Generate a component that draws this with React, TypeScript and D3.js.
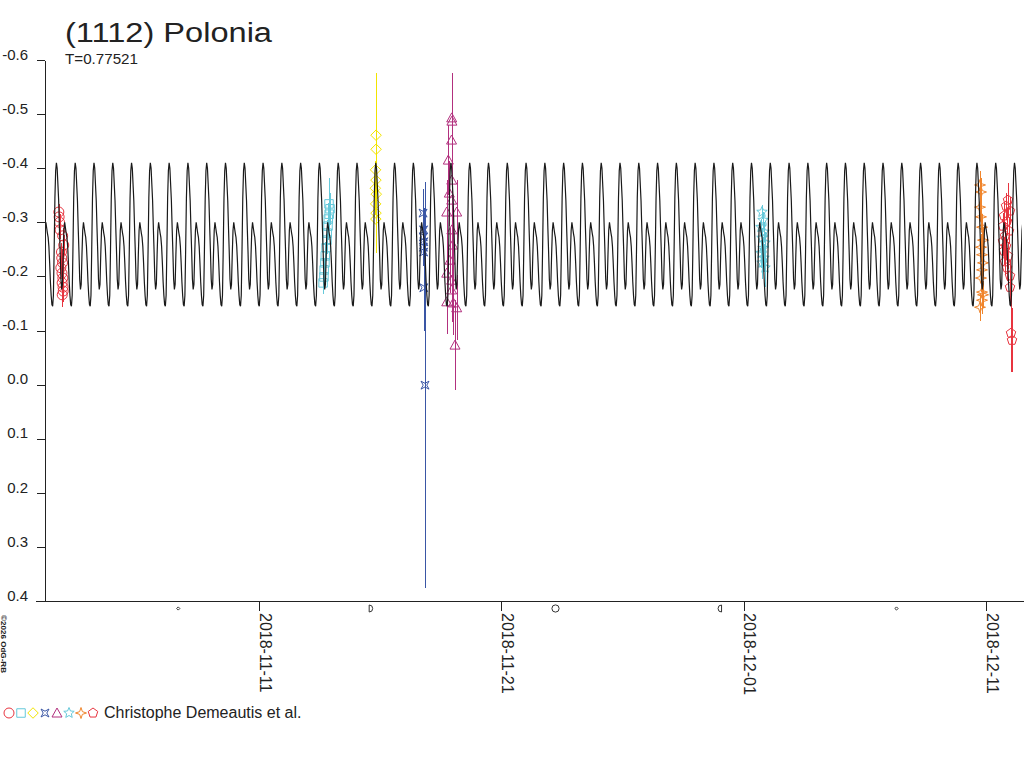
import * as d3 from "d3";
import { useEffect, useRef } from "react";

// period (days) and time of one model maximum (days since 2018-11-01 0h UT)
const PERIOD = 0.77521;
const EPOCH = 1.64;

// one cycle of the model light curve
const shapePhase = [0, 0.04, 0.08, 0.12, 0.16, 0.2, 0.24, 0.28, 0.32, 0.36, 0.4, 0.44, 0.48, 0.52, 0.56, 0.6, 0.64, 0.68, 0.72, 0.76, 0.8, 0.84, 0.88, 0.92, 0.96];
const shapeMag = [-0.41, -0.4, -0.37, -0.34, -0.29, -0.245, -0.195, -0.176, -0.185, -0.24, -0.285, -0.3, -0.29, -0.28, -0.272, -0.255, -0.225, -0.19, -0.165, -0.148, -0.145, -0.165, -0.25, -0.345, -0.395];

// observing sessions: time (days since 2018-11-01), relative mag, error
const s1Time = [1.74, 1.752, 1.77, 1.792, 1.898, 1.942, 1.848, 1.86, 1.892, 1.822, 1.87, 1.906, 1.876, 1.914, 1.92, 1.88];
const s1Mag = [-0.319, -0.31, -0.3, -0.286, -0.275, -0.258, -0.245, -0.234, -0.225, -0.216, -0.206, -0.197, -0.188, -0.18, -0.173, -0.166];
const s1Err = [0.015, 0.015, 0.016, 0.016, 0.015, 0.018, 0.016, 0.017, 0.018, 0.018, 0.02, 0.02, 0.02, 0.022, 0.02, 0.022];

const s2Time = [12.889, 12.93, 12.895, 12.86, 12.847, 12.815, 12.806, 12.77, 12.735, 12.72, 12.69, 12.68, 12.645];
const s2Mag = [-0.334, -0.325, -0.315, -0.306, -0.293, -0.28, -0.267, -0.253, -0.238, -0.225, -0.212, -0.199, -0.188];
const s2Err = [0.048, 0.03, 0.03, 0.03, 0.025, 0.025, 0.025, 0.025, 0.025, 0.025, 0.02, 0.02, 0.02];

const s3Time = [14.83, 14.832, 14.81, 14.825, 14.8, 14.84, 14.815, 14.828, 14.822];
const s3Mag = [-0.461, -0.435, -0.397, -0.378, -0.363, -0.352, -0.334, -0.317, -0.306];
const s3Err = [0.115, 0.09, 0.07, 0.055, 0.05, 0.05, 0.06, 0.06, 0.063];

const s4Time = [16.77, 16.79, 16.78, 16.8, 16.785, 16.795, 16.8, 16.85];
const s4Mag = [-0.317, -0.286, -0.273, -0.264, -0.254, -0.245, -0.179, 0.001];
const s4Err = [0.045, 0.04, 0.035, 0.035, 0.035, 0.035, 0.08, 0.375];

const s5Time = [17.952, 17.96, 17.945, 17.812, 17.955, 17.853, 17.746, 17.952, 18.158, 17.958, 17.882, 17.746, 17.95, 17.746, 18.018, 18.158, 18.088, 17.99, 17.948];
const s5Mag = [-0.493, -0.487, -0.452, -0.415, -0.378, -0.354, -0.319, -0.341, -0.319, -0.286, -0.23, -0.206, -0.193, -0.153, -0.151, -0.142, -0.073, -0.258, -0.175];
const s5Err = [0.083, 0.08, 0.07, 0.065, 0.06, 0.06, 0.06, 0.06, 0.06, 0.06, 0.06, 0.06, 0.06, 0.06, 0.06, 0.06, 0.083, 0.06, 0.06];

const s6Time = [30.756, 30.798, 30.715, 30.839, 30.756, 30.88, 30.798, 30.715, 30.839, 30.756, 30.88];
const s6Mag = [-0.319, -0.304, -0.291, -0.282, -0.271, -0.262, -0.252, -0.243, -0.234, -0.225, -0.216];
const s6Err = [0.013, 0.015, 0.015, 0.018, 0.018, 0.02, 0.02, 0.025, 0.025, 0.03, 0.035];

const s7Time = [39.753, 39.794, 39.753, 39.794, 39.836, 39.877, 39.794, 39.836, 39.877, 39.836, 39.794, 39.836, 39.877, 39.836, 39.753];
const s7Mag = [-0.369, -0.356, -0.328, -0.31, -0.291, -0.267, -0.254, -0.24, -0.225, -0.212, -0.197, -0.171, -0.166, -0.156, -0.143];
const s7Err = [0.025, 0.025, 0.025, 0.025, 0.025, 0.025, 0.025, 0.025, 0.025, 0.025, 0.025, 0.025, 0.025, 0.025, 0.025];

const s8Time = [40.908, 40.826, 40.991, 40.743, 40.867, 40.702, 40.949, 40.784, 40.702, 40.826, 40.743, 40.908, 40.784, 40.867, 40.991, 40.991, 41.032, 41.073];
const s8Mag = [-0.341, -0.33, -0.321, -0.312, -0.302, -0.293, -0.284, -0.275, -0.265, -0.256, -0.247, -0.238, -0.227, -0.216, -0.201, -0.18, -0.095, -0.082];
const s8Err = [0.031, 0.025, 0.025, 0.025, 0.025, 0.025, 0.025, 0.025, 0.025, 0.025, 0.025, 0.025, 0.025, 0.025, 0.03, 0.03, 0.072, 0.059];

const sessionColors = ["#e8343f", "#66c9da", "#f2e400", "#3a56a5", "#b2307e", "#66c9da", "#f0852c", "#e8343f"];

// tick labels and moon phases
const xTickDates = ["2018-11-11", "2018-11-21", "2018-12-01", "2018-12-11"];
const yTicks = [-0.6, -0.5, -0.4, -0.3, -0.2, -0.1, 0.0, 0.1, 0.2, 0.3, 0.4];
const moonTime = [6.668, 14.621, 22.235, 29.013, 36.306];
const moonKind = ["new", "first", "full", "last", "new"];

const observer = "Christophe Demeautis et al.";
const FONT = "'Liberation Sans', Arial, sans-serif";

const T0 = Date.UTC(2018, 10, 1);
const toDate = (t: number) => new Date(T0 + t * 864e5);

// symbol types (size = (2r)^2)
const rad = (s: number) => Math.sqrt(s) / 2;
const symCircle = { draw(c: any, s: number) { const r = rad(s); c.moveTo(r, 0); c.arc(0, 0, r, 0, 2 * Math.PI); } };
const symSquare = { draw(c: any, s: number) { const r = rad(s) * 0.85; c.rect(-r, -r, 2 * r, 2 * r); } };
const symDiamond = { draw(c: any, s: number) { const r = rad(s) * 1.05; c.moveTo(0, -r); c.lineTo(r, 0); c.lineTo(0, r); c.lineTo(-r, 0); c.closePath(); } };
const symNotched = {
    draw(c: any, s: number) {
        const r = rad(s) * 0.8, q = r * 0.45;
        c.moveTo(-r, -r); c.lineTo(0, -q); c.lineTo(r, -r); c.lineTo(q, 0);
        c.lineTo(r, r); c.lineTo(0, q); c.lineTo(-r, r); c.lineTo(-q, 0); c.closePath();
    }
};
const symTriangle = { draw(c: any, s: number) { const r = rad(s); c.moveTo(0, -r); c.lineTo(r, r * 0.8); c.lineTo(-r, r * 0.8); c.closePath(); } };
const starType = (n: number, inner: number, scale: number) => ({
    draw(c: any, s: number) {
        const r = rad(s) * scale;
        for (let i = 0; i < 2 * n; i++) {
            const a = (i * Math.PI) / n - Math.PI / 2;
            const rr = i % 2 === 0 ? r : r * inner;
            if (i === 0) c.moveTo(rr * Math.cos(a), rr * Math.sin(a));
            else c.lineTo(rr * Math.cos(a), rr * Math.sin(a));
        }
        c.closePath();
    }
});
const symStar = starType(5, 0.45, 1.1);
const symStar4 = starType(4, 0.35, 1.1);
const symPentagon = {
    draw(c: any, s: number) {
        const r = rad(s) * 1.0;
        for (let i = 0; i < 5; i++) {
            const a = (i * 2 * Math.PI) / 5 - Math.PI / 2;
            if (i === 0) c.moveTo(r * Math.cos(a), r * Math.sin(a));
            else c.lineTo(r * Math.cos(a), r * Math.sin(a));
        }
        c.closePath();
    }
};
const sessionSymbols = [symCircle, symSquare, symDiamond, symNotched, symTriangle, symStar, symStar4, symPentagon];

const Chart = () => {
    const svgRef = useRef<SVGSVGElement | null>(null);

    useEffect(() => {
        if (!svgRef.current) return;
        const width = 1024;
        const height = 768;

        const svg = d3.select(svgRef.current)
            .attr("width", width)
            .attr("height", height)
            .style("background", "#fff");
        svg.selectAll("*").remove();

        const x = d3.scaleUtc()
            .domain([toDate(1.169), toDate(41.568)])
            .range([45, 1024]);
        const y = d3.scaleLinear()
            .domain([-0.6, 0.4])
            .range([60, 601]);

        const sessions = [
            [s1Time, s1Mag, s1Err], [s2Time, s2Mag, s2Err], [s3Time, s3Mag, s3Err], [s4Time, s4Mag, s4Err],
            [s5Time, s5Mag, s5Err], [s6Time, s6Mag, s6Err], [s7Time, s7Mag, s7Err], [s8Time, s8Mag, s8Err]
        ].map(([t, m, e], k) => ({
            color: sessionColors[k],
            symbol: sessionSymbols[k],
            pts: t.map((tt, i) => ({ t: tt, m: m[i], e: e[i] }))
        }));

        // observations: error bars and symbols
        sessions.forEach(s => {
            const g = svg.append("g");
            g.selectAll("line")
                .data(s.pts)
                .join("line")
                .attr("x1", d => Math.round(x(toDate(d.t))) + 0.5)
                .attr("x2", d => Math.round(x(toDate(d.t))) + 0.5)
                .attr("y1", d => y(d.m - d.e))
                .attr("y2", d => y(d.m + d.e))
                .attr("stroke", s.color)
                .attr("stroke-width", 1)
                .attr("shape-rendering", "crispEdges");
            g.selectAll("path")
                .data(s.pts)
                .join("path")
                .attr("transform", d => `translate(${x(toDate(d.t))},${y(d.m)})`)
                .attr("d", d3.symbol().type(s.symbol as any).size(100)())
                .attr("fill", "none")
                .attr("stroke", s.color)
                .attr("stroke-width", 1);
        });

        // model light curve, one read-off cycle repeated with the period
        const curve: { t: number; m: number }[] = [];
        for (let k = -2; k < 56; k++) {
            shapePhase.forEach((p, i) => curve.push({ t: EPOCH + (k + p) * PERIOD, m: shapeMag[i] }));
        }
        svg.append("clipPath").attr("id", "plotclip")
            .append("rect").attr("x", 45).attr("y", 0).attr("width", 977).attr("height", 601);
        svg.append("path")
            .datum(curve)
            .attr("clip-path", "url(#plotclip)")
            .attr("fill", "none")
            .attr("stroke", "#1a1a1a")
            .attr("stroke-width", 1.2)
            .attr("d", d3.line<{ t: number; m: number }>()
                .x(d => x(toDate(d.t)))
                .y(d => y(d.m)));

        // axes
        const yAxis = svg.append("g")
            .attr("transform", "translate(45,0)")
            .call(d3.axisLeft(y).tickValues(yTicks).tickSize(8).tickSizeOuter(0).tickPadding(9)
                .tickFormat(d => (+d).toFixed(1)));
        yAxis.selectAll("text").attr("dy", "-0.05em").attr("fill", "#222")
            .style("font-family", FONT).style("font-size", "15px");

        const parseDay = d3.utcParse("%Y-%m-%d");
        const xAxis = svg.append("g")
            .attr("transform", "translate(0,601)")
            .call(d3.axisBottom(x).tickValues(xTickDates.map(s => parseDay(s)!))
                .tickSize(10).tickSizeOuter(0).tickFormat(d3.utcFormat("%Y-%m-%d") as any));
        xAxis.selectAll(".tick text")
            .attr("transform", "rotate(90)")
            .attr("x", 12).attr("y", 0).attr("dy", "0")
            .attr("text-anchor", "start")
            .attr("fill", "#222")
            .style("font-family", FONT).style("font-size", "16px");
        svg.selectAll(".domain, .tick line").attr("stroke", "#222").attr("shape-rendering", "crispEdges");
        svg.append("line").attr("x1", 36).attr("x2", 45).attr("y1", 601.5).attr("y2", 601.5)
            .attr("stroke", "#222").attr("shape-rendering", "crispEdges");

        // moon phases under the time axis
        const moonY = 608.5;
        moonTime.forEach((t, i) => {
            const mx = x(toDate(t));
            const kind = moonKind[i];
            const g = svg.append("g").attr("transform", `translate(${mx},${moonY})`)
                .attr("fill", "none").attr("stroke", "#333").attr("stroke-width", 1);
            if (kind === "new") g.append("path").attr("d", "M0,-1.6L1.6,0L0,1.6L-1.6,0Z");
            if (kind === "full") g.append("circle").attr("r", 3.6);
            if (kind === "first") g.append("path").attr("d", "M-1.8,-3.5L-1.8,3.5A3.5,3.5 0 0 0 -1.8,-3.5Z");
            if (kind === "last") g.append("path").attr("d", "M1.8,-3.5L1.8,3.5A3.5,3.5 0 0 1 1.8,-3.5Z");
        });

        // titles
        svg.append("text").attr("x", 65).attr("y", 42).text("(1112) Polonia")
            .attr("fill", "#222").attr("textLength", 207).attr("lengthAdjust", "spacingAndGlyphs")
            .style("font-family", FONT).style("font-size", "27px");
        svg.append("text").attr("x", 65).attr("y", 64).text(`T=${PERIOD}`)
            .attr("fill", "#222").attr("textLength", 73).attr("lengthAdjust", "spacingAndGlyphs")
            .style("font-family", FONT).style("font-size", "14px");

        // credit, vertical
        svg.append("text").attr("transform", "translate(1,615) rotate(90)").text("©2026 OdG-RB")
            .attr("fill", "#222").attr("textLength", 58).attr("lengthAdjust", "spacingAndGlyphs")
            .style("font-family", FONT).style("font-size", "8px").style("font-weight", "bold");

        // legend: one symbol per session, then observer name
        const leg = svg.append("g").attr("transform", "translate(9,713)");
        sessions.forEach((s, i) => {
            leg.append("path")
                .attr("transform", `translate(${i * 12},0)`)
                .attr("d", d3.symbol().type(s.symbol as any).size(100)())
                .attr("fill", "none").attr("stroke", s.color).attr("stroke-width", 1);
        });
        svg.append("text").attr("x", 104).attr("y", 718).text(observer)
            .attr("fill", "#222").style("font-family", FONT).style("font-size", "16px");
    }, []);

    return <svg ref={svgRef} style={{ position: "absolute", left: 0, top: 0 }}></svg>;
};

export default function App() {
    return <Chart />;
}
